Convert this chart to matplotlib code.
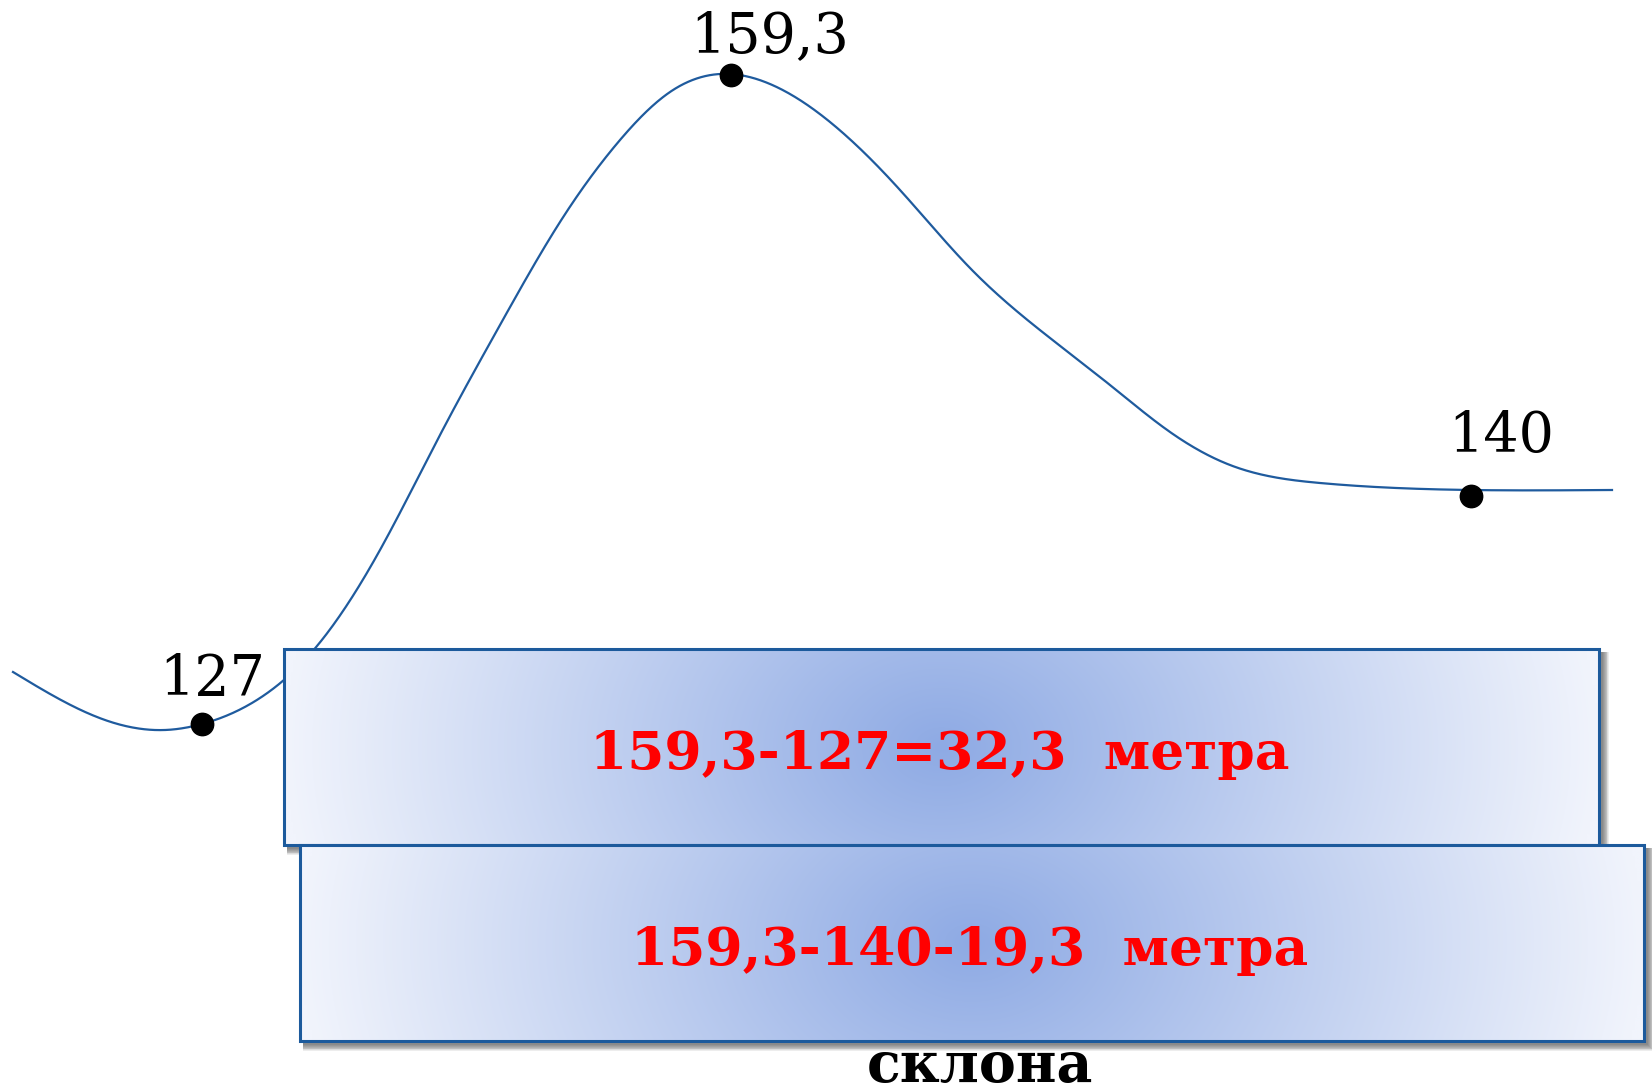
import numpy as np
import matplotlib
matplotlib.use("Agg")
import matplotlib.pyplot as plt
from matplotlib.patches import Rectangle

# ---- data (figure pixel units) ----
profile_x = [13, 105, 165, 202, 260, 317, 380, 440, 500, 560, 620, 670, 720,
             770, 830, 900, 970, 1050, 1110, 1170, 1230, 1320, 1470, 1612]
profile_y = [672, 720, 730, 724, 698, 646, 550, 435, 325, 222, 140, 92, 74,
             84, 122, 190, 268, 338, 385, 432, 465, 483, 490, 490]

point_x = [202, 731, 1471]
point_y = [724, 75, 496]
point_labels = ["127", "159,3", "140"]
label_pos = [(212, 680), (770, 37), (1501, 437)]

box_texts = ["159,3-127=32,3  метра", "159,3-140-19,3  метра"]
bottom_word = "склона"

W, H = 1652, 1085


def natural_spline(x, y, n=1500):
    x = np.asarray(x, float)
    y = np.asarray(y, float)
    m = len(x)
    h = np.diff(x)
    A = np.zeros((m, m))
    b = np.zeros(m)
    A[0, 0] = A[-1, -1] = 1
    for i in range(1, m - 1):
        A[i, i - 1] = h[i - 1]
        A[i, i] = 2 * (h[i - 1] + h[i])
        A[i, i + 1] = h[i]
        b[i] = 3 * ((y[i + 1] - y[i]) / h[i] - (y[i] - y[i - 1]) / h[i - 1])
    c = np.linalg.solve(A, b)
    bb = (np.diff(y) / h) - h * (2 * c[:-1] + c[1:]) / 3
    d = np.diff(c) / (3 * h)
    xs = np.linspace(x[0], x[-1], n)
    idx = np.clip(np.searchsorted(x, xs) - 1, 0, m - 2)
    dx = xs - x[idx]
    ys = y[idx] + bb[idx] * dx + c[idx] * dx ** 2 + d[idx] * dx ** 3
    return xs, ys


fig = plt.figure(figsize=(W / 100, H / 100), dpi=100)
ax = fig.add_axes([0, 0, 1, 1])
ax.set_xlim(0, W)
ax.set_ylim(H, 0)
ax.axis("off")
fig.patch.set_facecolor("white")

serif = ["DejaVu Serif"]

# curve
cx, cy = natural_spline(profile_x, profile_y)
ax.plot(cx, cy, color="#1f5b9e", lw=1.6, zorder=2)
ax.scatter(point_x, point_y, s=260, color="black", zorder=3)
for lab, (lx, ly) in zip(point_labels, label_pos):
    ax.text(lx, ly, lab, fontsize=40, family=serif, ha="center", va="center",
            color="black", zorder=3)

# word partly hidden under the lower box
ax.text(980, 1082, bottom_word, fontsize=40, family=serif, fontweight="bold",
        ha="center", va="baseline", color="black", zorder=1)


def gradient_box(x0, y0, x1, y1, text, z):
    # soft shadow (bottom / right)
    for k in range(1, 9):
        ax.add_patch(Rectangle((x0 + 3, y0 + 3), x1 - x0 + k * 0.9, y1 - y0 + k * 0.9,
                               facecolor="black", edgecolor="none", alpha=0.07,
                               zorder=z - 0.5))
    nx, ny = 500, 100
    xx, yy = np.meshgrid(np.linspace(-1, 1, nx), np.linspace(-1, 1, ny))
    r = np.clip(np.sqrt(xx ** 2 + (0.2 * yy) ** 2), 0, 1)
    c_center = np.array([142, 170, 228]) / 255
    c_edge = np.array([241, 244, 252]) / 255
    img = c_center[None, None, :] * (1 - r[..., None]) + c_edge[None, None, :] * r[..., None]
    ax.imshow(img, extent=(x0, x1, y1, y0), aspect="auto", zorder=z,
              interpolation="bilinear")
    ax.add_patch(Rectangle((x0, y0), x1 - x0, y1 - y0, facecolor="none",
                           edgecolor="#1c5a9c", lw=2.2, zorder=z + 0.1))
    ax.text((x0 + x1) / 2 - 2, (y0 + y1) / 2 + 8, text, fontsize=38.5, family=serif,
            fontweight="bold", color="#ff0000", ha="center", va="center", zorder=z + 0.2)


gradient_box(284, 649, 1599, 845, box_texts[0], 5)
gradient_box(300, 845, 1644, 1041, box_texts[1], 7)

ax.set_xlim(0, W)
ax.set_ylim(H, 0)
fig.savefig("out.png", dpi=100, facecolor="white")
